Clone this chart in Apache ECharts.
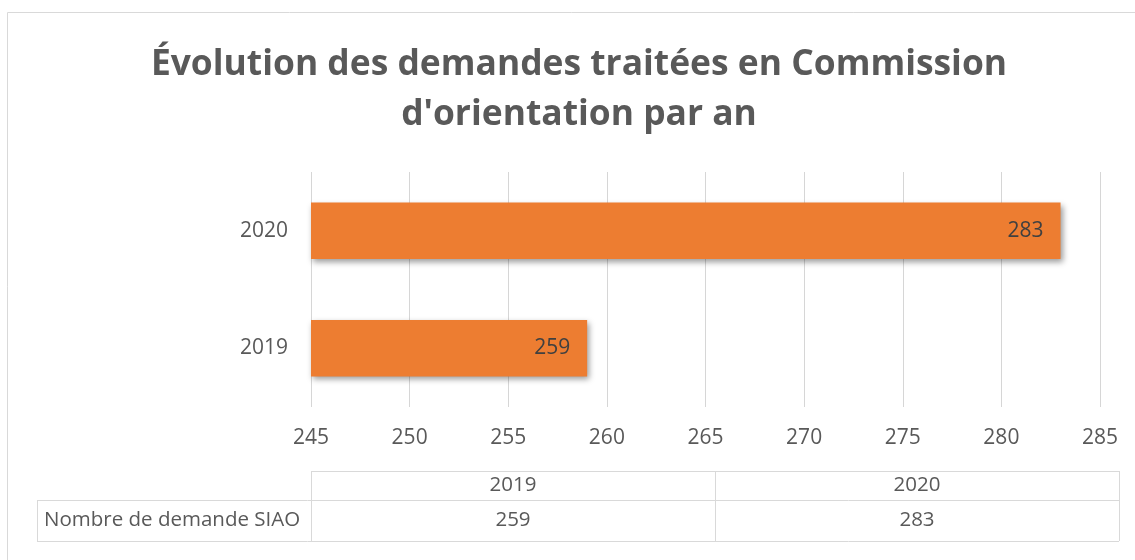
<!DOCTYPE html>
<html>
<head>
<meta charset="utf-8">
<script src="https://cdn.jsdelivr.net/npm/echarts@6/dist/echarts.min.js"></script>
<style>
  html, body { margin: 0; padding: 0; background: #fff; }
  #main { width: 1135px; height: 560px; }
</style>
</head>
<body>
<div id="main"></div>
<script>
var years = ['2019', '2020'];
var demandes = [259, 283];
var seriesName = 'Nombre de demande SIAO';
var titleText = "Évolution des demandes traitées en Commission\nd'orientation par an";

var FONT = '"Open Sans", sans-serif';
var GREY = '#595959';

var myChart = echarts.init(document.getElementById('main'));

myChart.setOption({
  animation: false,
  textStyle: { fontFamily: FONT },
  title: {
    text: titleText,
    left: 574,
    top: 35,
    textAlign: 'center',
    textStyle: { fontFamily: FONT, fontSize: 35.4, fontWeight: 'bold', color: GREY, lineHeight: 50 }
  },
  grid: { left: 311, right: 35, top: 172, bottom: 153 },
  xAxis: {
    type: 'value',
    min: 245,
    max: 285,
    interval: 5,
    axisLine: { show: false },
    axisTick: { show: false },
    axisLabel: { color: GREY, fontSize: 21, margin: 21 },
    splitLine: { lineStyle: { color: '#d6d6d6', width: 1 } }
  },
  yAxis: {
    type: 'category',
    data: years,
    axisLine: { show: false },
    axisTick: { show: false },
    axisLabel: { color: GREY, fontSize: 21, margin: 23 }
  },
  series: [{
    name: seriesName,
    type: 'bar',
    data: demandes,
    barWidth: '48%',
    itemStyle: {
      color: '#ED7D31',
      shadowColor: 'rgba(0,0,0,0.4)',
      shadowBlur: 6,
      shadowOffsetX: 2,
      shadowOffsetY: 3
    },
    label: {
      show: true,
      position: 'insideRight',
      distance: 17,
      color: '#404040',
      fontSize: 21
    }
  }]
});

// data table under the chart, columns start at the axis origin
var x0 = myChart.convertToPixel({ xAxisIndex: 0 }, 245);
var tableLeft = 37, tableRight = 1119;
var rowTop = 471, rowMid = 500, rowBottom = 541;
var colW = (tableRight - x0) / years.length;
var lineStyle = { stroke: '#d9d9d9', lineWidth: 1 };
var tblFont = '20.5px ' + FONT;
var els = [];

// outer chart border
els.push({ type: 'rect', shape: { x: 7.5, y: 12.5, width: 1140, height: 560 }, style: { fill: null, stroke: '#d9d9d9', lineWidth: 1 }, silent: true });

els.push({ type: 'line', shape: { x1: x0, y1: rowTop + 0.5, x2: tableRight, y2: rowTop + 0.5 }, style: lineStyle });
els.push({ type: 'line', shape: { x1: tableLeft, y1: rowMid + 0.5, x2: tableRight, y2: rowMid + 0.5 }, style: lineStyle });
els.push({ type: 'line', shape: { x1: tableLeft, y1: rowBottom + 0.5, x2: tableRight, y2: rowBottom + 0.5 }, style: lineStyle });
els.push({ type: 'line', shape: { x1: tableLeft + 0.5, y1: rowMid, x2: tableLeft + 0.5, y2: rowBottom }, style: lineStyle });
for (var i = 0; i <= years.length; i++) {
  var cx = Math.round(x0 + colW * i) + 0.5;
  els.push({ type: 'line', shape: { x1: cx, y1: rowTop, x2: cx, y2: rowBottom }, style: lineStyle });
}
years.forEach(function (y, i) {
  var mx = x0 + colW * (i + 0.5);
  els.push({ type: 'text', x: mx, y: (rowTop + rowMid) / 2, style: { text: y, fill: GREY, font: tblFont, textAlign: 'center', textVerticalAlign: 'middle' } });
  els.push({ type: 'text', x: mx, y: (rowMid + rowBottom) / 2, style: { text: String(demandes[i]), fill: GREY, font: tblFont, textAlign: 'center', textVerticalAlign: 'middle' } });
});
els.push({ type: 'text', x: 44, y: (rowMid + rowBottom) / 2, style: { text: seriesName, fill: GREY, font: tblFont, textAlign: 'left', textVerticalAlign: 'middle' } });

myChart.setOption({ graphic: els });
</script>
</body>
</html>
